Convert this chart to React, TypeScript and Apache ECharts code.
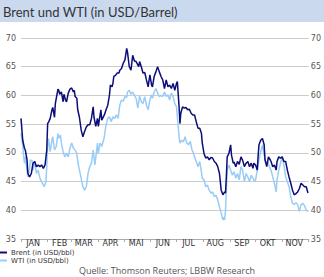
import React, { useEffect, useRef } from "react";
import * as echarts from "echarts";

const title = "Brent und WTI (in USD/Barrel)";
const source = "Quelle: Thomson Reuters; LBBW Research";
const monthLabels = ["JAN", "FEB", "MAR", "APR", "MAI", "JUN", "JUL", "AUG", "SEP", "OKT", "NOV", "DEZ"];
const monthDays = [31, 28, 31, 30, 31, 30, 31, 31, 30, 31, 30, 31];
const lastDay = "12-02";
const yTicks = { min: 35, max: 70, step: 5 };
const seriesNames = ["Brent (in USD/bbl)", "WTI (in USD/bbl)"];

const brent: [string, number][] = [
  ["01-01", 56.0], ["01-03", 52.2], ["01-05", 50.8], ["01-06", 50.5], ["01-08", 48.8], ["01-09", 46.4], ["01-11", 45.8], ["01-13", 46.4], ["01-15", 48.2], ["01-17", 48.5], ["01-19", 47.6], ["01-21", 47.9], ["01-23", 47.6], ["01-25", 47.9], ["01-27", 47.3], ["01-29", 47.9], ["01-31", 50.5],
  ["02-01", 55.1], ["02-02", 55.3], ["02-04", 56.0], ["02-06", 57.5], ["02-07", 57.9], ["02-09", 56.2], ["02-10", 58.6], ["02-13", 61.1], ["02-14", 60.9], ["02-15", 60.2], ["02-17", 60.6], ["02-19", 58.9], ["02-20", 60.2], ["02-22", 59.1], ["02-23", 58.9], ["02-25", 60.4], ["02-27", 61.1],
  ["03-01", 61.3], ["03-03", 60.6], ["03-04", 60.9], ["03-05", 59.8], ["03-07", 59.5], ["03-08", 57.5], ["03-10", 56.2], ["03-12", 54.0], ["03-14", 52.8], ["03-16", 53.7], ["03-18", 54.5], ["03-20", 54.9], ["03-22", 54.9], ["03-24", 56.0], ["03-26", 58.0], ["03-27", 56.2], ["03-29", 54.6], ["03-31", 56.0],
  ["04-01", 54.6], ["04-04", 57.5], ["04-05", 55.7], ["04-08", 56.6], ["04-10", 57.5], ["04-12", 58.3], ["04-14", 60.1], ["04-15", 61.8], ["04-17", 61.5], ["04-18", 62.1], ["04-19", 63.3], ["04-21", 63.5], ["04-23", 63.9], ["04-25", 63.9], ["04-26", 64.4], ["04-28", 64.7], ["04-30", 65.6],
  ["05-02", 66.2], ["05-04", 68.2], ["05-05", 67.5], ["05-07", 65.0], ["05-09", 64.4], ["05-11", 67.0], ["05-13", 66.0], ["05-15", 65.9], ["05-18", 65.0], ["05-19", 65.9], ["05-21", 65.0], ["05-23", 63.9], ["05-25", 64.0], ["05-27", 62.7], ["05-29", 61.5], ["05-31", 63.6],
  ["06-02", 61.8], ["06-03", 61.5], ["06-05", 63.3], ["06-07", 64.1], ["06-09", 65.0], ["06-11", 64.1], ["06-13", 63.3], ["06-15", 62.7], ["06-17", 61.2], ["06-19", 62.7], ["06-21", 61.5], ["06-23", 61.8], ["06-25", 61.2], ["06-27", 62.1], ["06-29", 60.9],
  ["07-01", 62.1], ["07-02", 62.4], ["07-04", 58.0], ["07-05", 55.1], ["07-06", 56.9], ["07-08", 58.0], ["07-10", 57.8], ["07-12", 57.9], ["07-14", 57.5], ["07-16", 57.6], ["07-18", 56.9], ["07-20", 56.6], ["07-22", 56.6], ["07-24", 55.4], ["07-26", 54.3], ["07-28", 54.3], ["07-30", 53.4], ["07-31", 51.7],
  ["08-02", 49.9], ["08-04", 49.1], ["08-06", 49.3], ["08-08", 48.8], ["08-10", 49.2], ["08-12", 49.1], ["08-14", 48.5], ["08-16", 48.2], ["08-18", 47.6], ["08-20", 46.4], ["08-21", 45.0], ["08-22", 43.5], ["08-24", 42.7], ["08-26", 43.2], ["08-27", 43.0], ["08-28", 45.8], ["08-29", 49.3], ["08-31", 49.9],
  ["09-02", 51.4], ["09-03", 49.6], ["09-05", 48.2], ["09-06", 48.4], ["09-08", 47.6], ["09-10", 48.5], ["09-12", 48.0], ["09-14", 49.3], ["09-16", 48.7], ["09-18", 47.6], ["09-20", 48.2], ["09-22", 48.5], ["09-24", 47.6], ["09-26", 48.2], ["09-28", 47.3], ["09-29", 48.2],
  ["10-01", 47.9], ["10-03", 47.0], ["10-04", 49.5], ["10-05", 51.4], ["10-07", 52.2], ["10-09", 52.5], ["10-11", 51.4], ["10-12", 48.8], ["10-14", 47.6], ["10-16", 49.3], ["10-18", 48.8], ["10-19", 48.5], ["10-21", 47.6], ["10-23", 47.9], ["10-25", 47.0], ["10-26", 48.5], ["10-28", 49.3], ["10-30", 49.1],
  ["11-01", 49.3], ["11-03", 48.5], ["11-05", 48.5], ["11-07", 47.0], ["11-09", 45.8], ["11-11", 44.7], ["11-13", 43.5], ["11-15", 42.7], ["11-17", 42.9], ["11-19", 43.2], ["11-21", 43.8], ["11-23", 44.7], ["11-25", 44.4], ["11-27", 44.1], ["11-29", 44.1], ["12-01", 43.0],
];

const wti: [string, number][] = [
  ["01-01", 53.4], ["01-03", 51.4], ["01-04", 49.6], ["01-05", 48.2], ["01-06", 49.3], ["01-08", 47.0], ["01-09", 45.8], ["01-11", 47.3], ["01-12", 48.8], ["01-14", 48.6], ["01-15", 47.0], ["01-17", 48.5], ["01-19", 46.4], ["01-21", 47.0], ["01-23", 45.6], ["01-25", 45.0], ["01-27", 44.4], ["01-28", 44.1], ["01-30", 45.0], ["01-31", 47.6],
  ["02-01", 51.1], ["02-02", 52.5], ["02-04", 50.2], ["02-06", 52.2], ["02-07", 52.8], ["02-09", 50.5], ["02-11", 51.1], ["02-13", 53.4], ["02-14", 52.5], ["02-16", 53.1], ["02-17", 51.7], ["02-19", 50.2], ["02-21", 49.3], ["02-23", 49.9], ["02-25", 49.3], ["02-27", 50.8],
  ["03-01", 51.7], ["03-03", 50.8], ["03-05", 50.5], ["03-07", 49.9], ["03-08", 48.5], ["03-10", 47.0], ["03-12", 45.6], ["03-14", 44.1], ["03-16", 43.5], ["03-18", 44.1], ["03-20", 46.4], ["03-22", 47.6], ["03-24", 48.2], ["03-26", 50.5], ["03-28", 47.9], ["03-29", 49.1], ["03-31", 51.7],
  ["04-01", 49.9], ["04-03", 51.7], ["04-05", 51.1], ["04-07", 52.2], ["04-08", 52.8], ["04-10", 54.9], ["04-12", 56.0], ["04-14", 56.3], ["04-16", 55.4], ["04-18", 56.3], ["04-20", 56.0], ["04-22", 56.6], ["04-24", 56.0], ["04-26", 58.3], ["04-28", 59.2], ["04-30", 59.0],
  ["05-02", 59.8], ["05-04", 59.6], ["05-05", 60.6], ["05-07", 60.9], ["05-09", 60.2], ["05-11", 60.6], ["05-13", 60.0], ["05-15", 59.5], ["05-17", 57.8], ["05-19", 59.9], ["05-21", 58.9], ["05-23", 58.6], ["05-25", 59.8], ["05-27", 58.3], ["05-29", 57.5], ["05-31", 59.2],
  ["06-02", 60.1], ["06-03", 59.5], ["06-05", 60.6], ["06-07", 61.2], ["06-09", 60.4], ["06-11", 59.8], ["06-13", 60.0], ["06-15", 59.8], ["06-17", 60.6], ["06-19", 59.8], ["06-21", 60.1], ["06-23", 59.2], ["06-25", 60.4], ["06-27", 59.8], ["06-29", 58.6],
  ["07-01", 58.0], ["07-02", 56.3], ["07-04", 52.8], ["07-05", 51.7], ["07-07", 52.2], ["07-09", 51.9], ["07-11", 52.8], ["07-13", 51.7], ["07-15", 51.4], ["07-17", 52.0], ["07-19", 50.5], ["07-20", 50.2], ["07-22", 49.3], ["07-24", 48.5], ["07-26", 47.6], ["07-28", 48.5], ["07-30", 46.7], ["07-31", 45.6],
  ["08-02", 45.3], ["08-04", 44.1], ["08-06", 44.4], ["08-08", 43.5], ["08-10", 43.0], ["08-12", 43.2], ["08-14", 42.4], ["08-16", 42.6], ["08-18", 41.8], ["08-20", 40.6], ["08-22", 39.5], ["08-24", 38.3], ["08-25", 38.8], ["08-26", 38.3], ["08-27", 39.9], ["08-28", 43.5], ["08-29", 47.0], ["08-31", 47.9],
  ["09-02", 47.0], ["09-04", 46.1], ["09-06", 46.7], ["09-08", 45.6], ["09-10", 46.4], ["09-12", 45.3], ["09-14", 47.6], ["09-16", 47.0], ["09-18", 45.0], ["09-20", 46.4], ["09-22", 45.8], ["09-24", 45.0], ["09-26", 46.1], ["09-28", 45.6], ["09-30", 45.0],
  ["10-01", 45.3], ["10-03", 47.0], ["10-05", 48.8], ["10-07", 50.2], ["10-09", 51.4], ["10-11", 49.6], ["10-13", 48.2], ["10-15", 48.5], ["10-17", 47.6], ["10-19", 47.0], ["10-21", 45.8], ["10-23", 44.7], ["10-25", 43.2], ["10-26", 45.3], ["10-28", 47.0], ["10-30", 48.2],
  ["11-01", 49.3], ["11-03", 47.9], ["11-05", 45.8], ["11-07", 45.0], ["11-09", 44.1], ["11-11", 42.4], ["11-13", 41.2], ["11-15", 41.0], ["11-17", 41.3], ["11-19", 41.0], ["11-21", 39.8], ["11-23", 41.0], ["11-25", 41.2], ["11-27", 40.8], ["11-29", 40.0], ["12-01", 39.8],
];

const pad = (n: number) => (n < 10 ? "0" + n : "" + n);

function buildDays(): string[] {
  const out: string[] = [];
  for (let m = 0; m < 12; m++) {
    for (let d = 1; d <= monthDays[m]; d++) {
      const key = pad(m + 1) + "-" + pad(d);
      out.push(key);
      if (key === lastDay) return out;
    }
  }
  return out;
}

export default function App() {
  const ref = useRef<HTMLDivElement>(null);
  useEffect(() => {
    if (!ref.current) return;
    const chart = echarts.init(ref.current, null, { renderer: "svg" });
    const days = buildDays();
    const yLabel = {
      fontSize: 8,
      color: "#555",
      fontFamily: "DejaVu Sans",
      padding: [0, 0, 3, 0],
    };
    const legendBase = {
      orient: "vertical",
      left: 0,
      padding: 0,
      itemWidth: 7,
      itemHeight: 2,
      icon: "rect",
      textStyle: { fontSize: 7, fontFamily: "DejaVu Sans", color: "#333", padding: [0, 0, 0, -1] },
    };
    chart.setOption({
      animation: false,
      grid: { left: 21, right: 15, top: 38, bottom: 38 },
      legend: [
        { ...legendBase, top: 249, data: [seriesNames[0]] },
        { ...legendBase, top: 257, data: [seriesNames[1]] },
      ],
      xAxis: {
        type: "category",
        data: days,
        boundaryGap: false,
        axisLine: { lineStyle: { color: "#aaa", width: 1 } },
        axisTick: {
          interval: (_i: number, v: string) => v.endsWith("-01"),
          length: 3,
          lineStyle: { color: "#aaa" },
        },
        axisLabel: {
          interval: (_i: number, v: string) => v.endsWith("-15"),
          formatter: (v: string) => monthLabels[parseInt(v.slice(0, 2), 10) - 1],
          fontSize: 8,
          color: "#333",
          fontFamily: "DejaVu Sans",
          margin: 0,
        },
        splitLine: { show: false },
      },
      yAxis: [
        {
          type: "value",
          min: yTicks.min,
          max: yTicks.max,
          interval: yTicks.step,
          axisLine: { show: false },
          axisTick: { show: false },
          axisLabel: { ...yLabel, margin: 5 },
          splitLine: { lineStyle: { color: "#cccccc", width: 1 } },
        },
        {
          type: "value",
          position: "right",
          min: yTicks.min,
          max: yTicks.max,
          interval: yTicks.step,
          axisLine: { show: false },
          axisTick: { show: false },
          axisLabel: { ...yLabel, margin: 2 },
          splitLine: { show: false },
        },
      ],
      series: [
        {
          name: seriesNames[1],
          type: "line",
          data: wti,
          showSymbol: false,
          color: "#99ccf7",
          lineStyle: { width: 1.5, color: "#99ccf7" },
        },
        {
          name: seriesNames[0],
          type: "line",
          data: brent,
          showSymbol: false,
          color: "#0d0d78",
          lineStyle: { width: 1.5, color: "#0d0d78" },
        },
      ],
      graphic: [
        { type: "rect", left: 0, top: 0, shape: { width: 324, height: 22 }, style: { fill: "#cbd9ef" }, silent: true },
        {
          type: "text",
          x: 3,
          y: 12,
          style: { text: title, fill: "#333", font: "13px Lato", textVerticalAlign: "middle" },
        },
        {
          type: "text",
          x: 167,
          y: 270,
          style: { text: source, fill: "#555", font: "9px 'Open Sans'", textAlign: "center", textVerticalAlign: "middle" },
        },
      ],
    });
    return () => chart.dispose();
  }, []);
  return <div ref={ref} style={{ position: "absolute", left: 0, top: 0, width: 324, height: 277 }} />;
}
